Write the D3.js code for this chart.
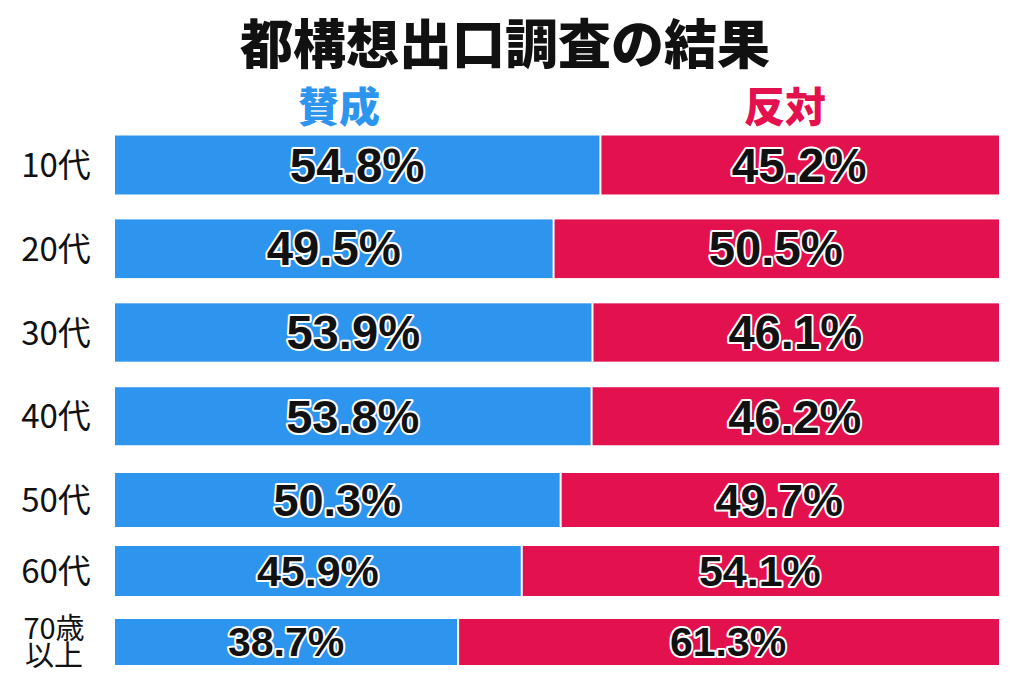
<!DOCTYPE html>
<html>
<head>
<meta charset="utf-8">
<script src="https://cdn.jsdelivr.net/npm/d3@7/dist/d3.min.js"></script>
<style>
  body { margin: 0; background: #fff; }
  svg { display: block; }
</style>
</head>
<body>
<svg id="chart"></svg>
<script>
// data
var ageGroups = ["10代", "20代", "30代", "40代", "50代", "60代", "70歳\n以上"];
var sansei = [54.8, 49.5, 53.9, 53.8, 50.3, 45.9, 38.7];
var hantai = [45.2, 50.5, 46.1, 46.2, 49.7, 54.1, 61.3];
var seriesNames = ["賛成", "反対"];
var titleText = "都構想出口調査の結果";

var blue = "#2E95EF",
    red = "#E3124F";

var svg = d3.select("#chart");
svg.width = 1024;
svg.height = 683;
svg.attr("width", svg.width).attr("height", svg.height);

var cjk = "'Noto Sans CJK JP', 'Noto Sans', sans-serif";
var latin = "'Liberation Sans', Arial, 'DejaVu Sans', sans-serif";

// scales
var x = d3.scaleLinear().domain([0, 100]).range([115, 999]);
// row centres / heights (rows get a little tighter towards the bottom)
var yc = d3.scaleLinear().domain([0, 4, 6]).range([165, 500, 642]);
var bh = d3.scaleLinear().domain([0, 3, 6]).range([59, 58, 46]);
var fs = d3.scaleLinear().domain([46, 60]).range([41, 48]);

var rows = ageGroups.map(function(g, i) {
  return { group: g, i: i, yes: sansei[i], no: hantai[i] };
});

// title
svg.append("text")
   .attr("x", 505).attr("y", 64)
   .attr("text-anchor", "middle")
   .style("font-family", cjk)
   .style("font-weight", 900)
   .style("font-size", "53px")
   .style("fill", "#111")
   .text(titleText);

// legend headers
svg.selectAll(".legend")
   .data(seriesNames)
   .enter().append("text")
   .attr("class", "legend")
   .attr("x", function(d, i) { return i == 0 ? 339 : 785; })
   .attr("y", 122)
   .attr("text-anchor", "middle")
   .style("font-family", cjk)
   .style("font-weight", 900)
   .style("font-size", "41px")
   .style("fill", function(d, i) { return i == 0 ? blue : red; })
   .text(function(d) { return d; });

var row = svg.selectAll(".row")
   .data(rows)
   .enter().append("g")
   .attr("class", "row");

// blue bars
row.append("rect")
   .attr("x", x(0))
   .attr("y", function(d) { return yc(d.i) - bh(d.i) / 2; })
   .attr("width", function(d) { return x(d.yes) - x(0); })
   .attr("height", function(d) { return bh(d.i); })
   .style("fill", blue);

// red bars
row.append("rect")
   .attr("x", function(d) { return x(d.yes) + 2; })
   .attr("y", function(d) { return yc(d.i) - bh(d.i) / 2; })
   .attr("width", function(d) { return x(100) - x(d.yes) - 2; })
   .attr("height", function(d) { return bh(d.i); })
   .style("fill", red);

// value labels
function valueLabel(sel, cx, val) {
  sel.append("text")
     .attr("x", cx)
     .attr("y", function(d) { return yc(d.i) + fs(bh(d.i)) * 0.35; })
     .attr("text-anchor", "middle")
     .style("font-family", latin)
     .style("font-weight", 700)
     .style("font-size", function(d) { return fs(bh(d.i)) + "px"; })
     .style("fill", "#111")
     .style("stroke", "#fff")
     .style("stroke-width", 4)
     .style("stroke-linejoin", "round")
     .style("paint-order", "stroke")
     .text(function(d) { return val(d).toFixed(1) + "%"; });
}
valueLabel(row, function(d) { return (x(0) + x(d.yes)) / 2; }, function(d) { return d.yes; });
valueLabel(row, function(d) { return (x(d.yes) + x(100)) / 2; }, function(d) { return d.no; });

// row labels
row.each(function(d) {
  var g = d3.select(this);
  var lines = d.group.split("\n");
  if (lines.length == 1) {
    g.append("text")
     .attr("text-anchor", "middle")
     .attr("x", 56).attr("y", yc(d.i) + 12)
     .style("font-family", cjk)
     .style("font-size", "33px")
     .style("fill", "#111")
     .text(lines[0]);
  } else {
    lines.forEach(function(l, k) {
      g.append("text")
       .attr("text-anchor", "middle")
       .attr("x", 54)
       .attr("y", yc(d.i) - 3 + k * 27)
       .style("font-family", cjk)
       .style("font-size", "29px")
       .style("fill", "#111")
       .text(l);
    });
  }
});
</script>
</body>
</html>
